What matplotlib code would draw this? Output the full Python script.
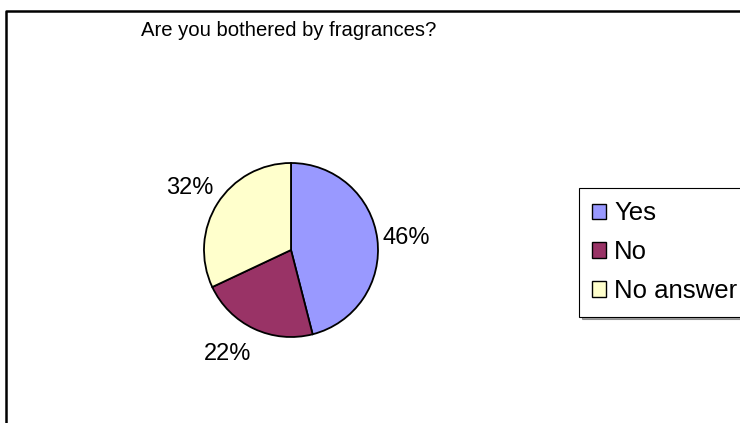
import numpy as np
import matplotlib
matplotlib.use("Agg")
import matplotlib.pyplot as plt
from matplotlib.patches import Patch
from matplotlib.lines import Line2D

categories = ["Yes", "No", "No answer"]
values = [46, 22, 32]
colors = ["#9999FF", "#993366", "#FFFFCC"]
title = "Are you bothered by fragrances?"

plt.rcParams['font.family'] = ['Liberation Sans', 'DejaVu Sans']

W, H = 740, 423
fig = plt.figure(figsize=(W / 100, H / 100), dpi=100)
fig.patch.set_facecolor("white")

# outer chart border (left + top visible)
fig.add_artist(Line2D([6 / W, 6 / W, 1.0], [0.0, 1 - 11 / H, 1 - 11 / H],
                      transform=fig.transFigure, color="black", lw=1.8))

fig.text(289 / W, 1 - 30 / H, title, ha="center", va="center", fontsize=14.6)

cx, cy, r = 291, 250, 87
ax = fig.add_axes([(cx - r) / W, (H - cy - r) / H, 2 * r / W, 2 * r / H])
wedges, _ = ax.pie(values, colors=colors, startangle=90, counterclock=False,
                   wedgeprops=dict(edgecolor="black", linewidth=1.3))
ax.set_xlim(-1, 1)
ax.set_ylim(-1, 1)
ax.set_aspect("equal")
ax.axis("off")

total = sum(values)
for w, v in zip(wedges, values):
    ang = np.deg2rad((w.theta1 + w.theta2) / 2)
    c, s = np.cos(ang), np.sin(ang)
    rr = 1.06
    ha = "left" if c > 0 else "right"
    if abs(s) < 0.3:
        va, dy = "center", 0
    elif s > 0:
        va, dy = "bottom", 1
    else:
        va, dy = "top", -7
    ax.annotate(f"{round(100 * v / total)}%", (rr * c, rr * s),
                xytext=(0, dy), textcoords="offset points",
                ha=ha, va=va, fontsize=17, annotation_clip=False)

handles = [Patch(facecolor=col, edgecolor="black", linewidth=1.0) for col in colors]
leg = fig.legend(handles, categories, loc="upper left",
                 bbox_to_anchor=(579 / W, 1 - 188 / H), fontsize=18.5,
                 frameon=True, fancybox=False, shadow=True,
                 handlelength=0.55, handleheight=0.55, handletextpad=0.3,
                 labelspacing=0.58, borderpad=0.52, borderaxespad=0)
leg.get_frame().set_edgecolor("black")
leg.get_frame().set_linewidth(0.8)

fig.savefig("out.png", dpi=100)
